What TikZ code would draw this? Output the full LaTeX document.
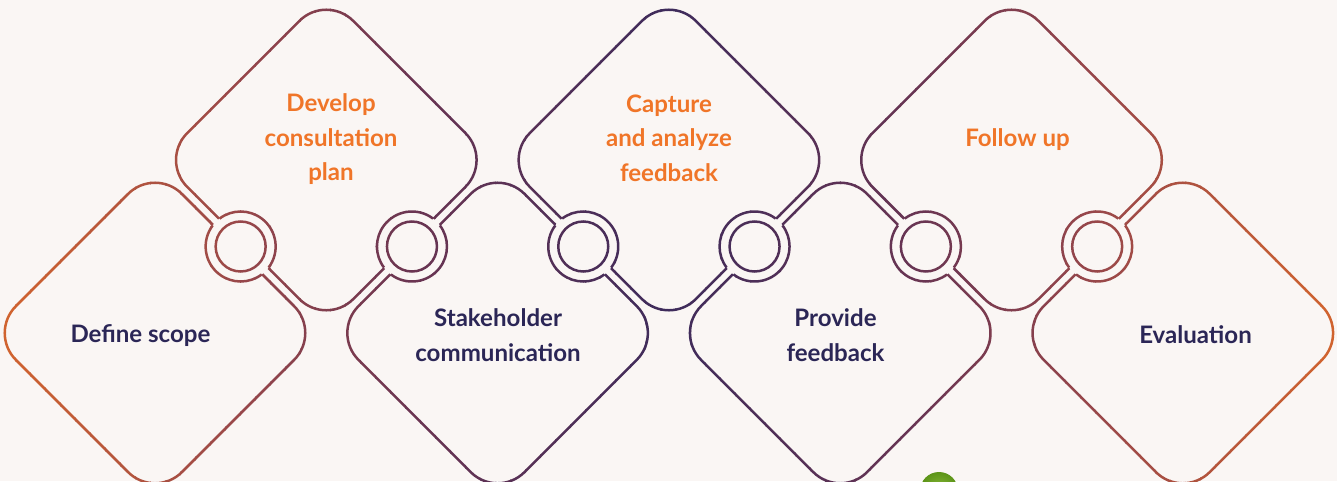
\documentclass[tikz,border=0pt]{standalone}
\usepackage{fontspec}
\setmainfont{Lato}
\usetikzlibrary{positioning}

\definecolor{pagebg}{HTML}{FAF6F4}
\definecolor{labelnavy}{HTML}{2B2656}
\definecolor{labelorange}{HTML}{F07528}
\definecolor{rimorange}{HTML}{D2642E}
\definecolor{rimred}{HTML}{98474A}
\definecolor{rimplum}{HTML}{6A3552}
\definecolor{rimpurple}{HTML}{3E2B5B}
\definecolor{leafgreen}{HTML}{5C9418}
\definecolor{leaflight}{HTML}{8CBB3C}

\tikzset{
  rim/.style={draw=rimhere, line width=0.05cm},
  steplabel/.style={font=\fontsize{13.7}{19.6}\selectfont\bfseries, align=center},
  lowstep/.style={steplabel, text=labelnavy},
  highstep/.style={steplabel, text=labelorange}
}

% all outlines: seven rounded diamonds and the six rings between them
\newcommand\rimlines{%
  \foreach \i in {0,...,6} {
    \pgfmathsetmacro\cx{155+171.3*\i}
    \pgfmathsetmacro\cy{isodd(\i) ? 321 : 148}
    \draw[rim, rounded corners=0.76cm]
      (\cx,\cy+166) -- (\cx+166,\cy) -- (\cx,\cy-166) -- (\cx-166,\cy) -- cycle;
  }
  \foreach \i in {0,...,5} {
    \pgfmathsetmacro\rx{240.65+171.3*\i}
    \pgfmathsetmacro\ra{isodd(\i) ? 45 : 135}
    \fill[pagebg] (\rx,234.5) circle[radius=35];
    \draw[rim] (\rx,234.5) ++(\ra+8:35) arc[start angle=\ra+8, end angle=\ra+172, radius=35];
    \draw[rim] (\rx,234.5) ++(\ra+188:35) arc[start angle=\ra+188, end angle=\ra+352, radius=35];
    \draw[rim] (\rx,234.5) circle[radius=25];
  }%
}

\begin{document}
\begin{tikzpicture}[x=0.02cm, y=0.02cm]
  \useasboundingbox (0,0) rectangle (1337,481);
  \fill[pagebg] (0,0) rectangle (1337,481);

  % outlines in thin vertical strips: orange at the ends, purple in the middle
  \foreach \s in {0,...,89} {
    \pgfmathsetmacro\xa{15*\s}
    \pgfmathsetmacro\u{min(1,abs((\xa+7.5)/1337-0.5)*2)}
    \ifdim\u pt<0.38pt
      \pgfmathsetmacro\p{\u/0.38*100}
      \colorlet{rimhere}{rimplum!\p!rimpurple}
    \else\ifdim\u pt<0.64pt
      \pgfmathsetmacro\p{(\u-0.38)/0.26*100}
      \colorlet{rimhere}{rimred!\p!rimplum}
    \else
      \pgfmathsetmacro\p{(\u-0.64)/0.36*100}
      \colorlet{rimhere}{rimorange!\p!rimred}
    \fi\fi
    \begin{scope}
      \clip (\xa,-30) rectangle (\xa+16,520);
      \rimlines
    \end{scope}
  }

  % labels
  \node[lowstep] (define) at (140.5,145) {Define scope};
  \node[highstep] (develop) at (331,341.5) {Develop\\consultation\\plan};
  \node[lowstep] (stakeholder) at (498,146) {Stakeholder\\communication};
  \node[highstep] (capture) at (669,343) {Capture\\and analyze\\feedback};
  \node[lowstep] (provide) at (835.5,146) {Provide\\feedback};
  \node[highstep] (followup) at (1017.5,341) {Follow up};
  \node[lowstep] (evaluation) at (1195.5,146) {Evaluation};

  % leaf peeking in at the bottom
  \shade[inner color=leaflight, outer color=leafgreen] (939,-10) circle[radius=19];
\end{tikzpicture}
\end{document}
